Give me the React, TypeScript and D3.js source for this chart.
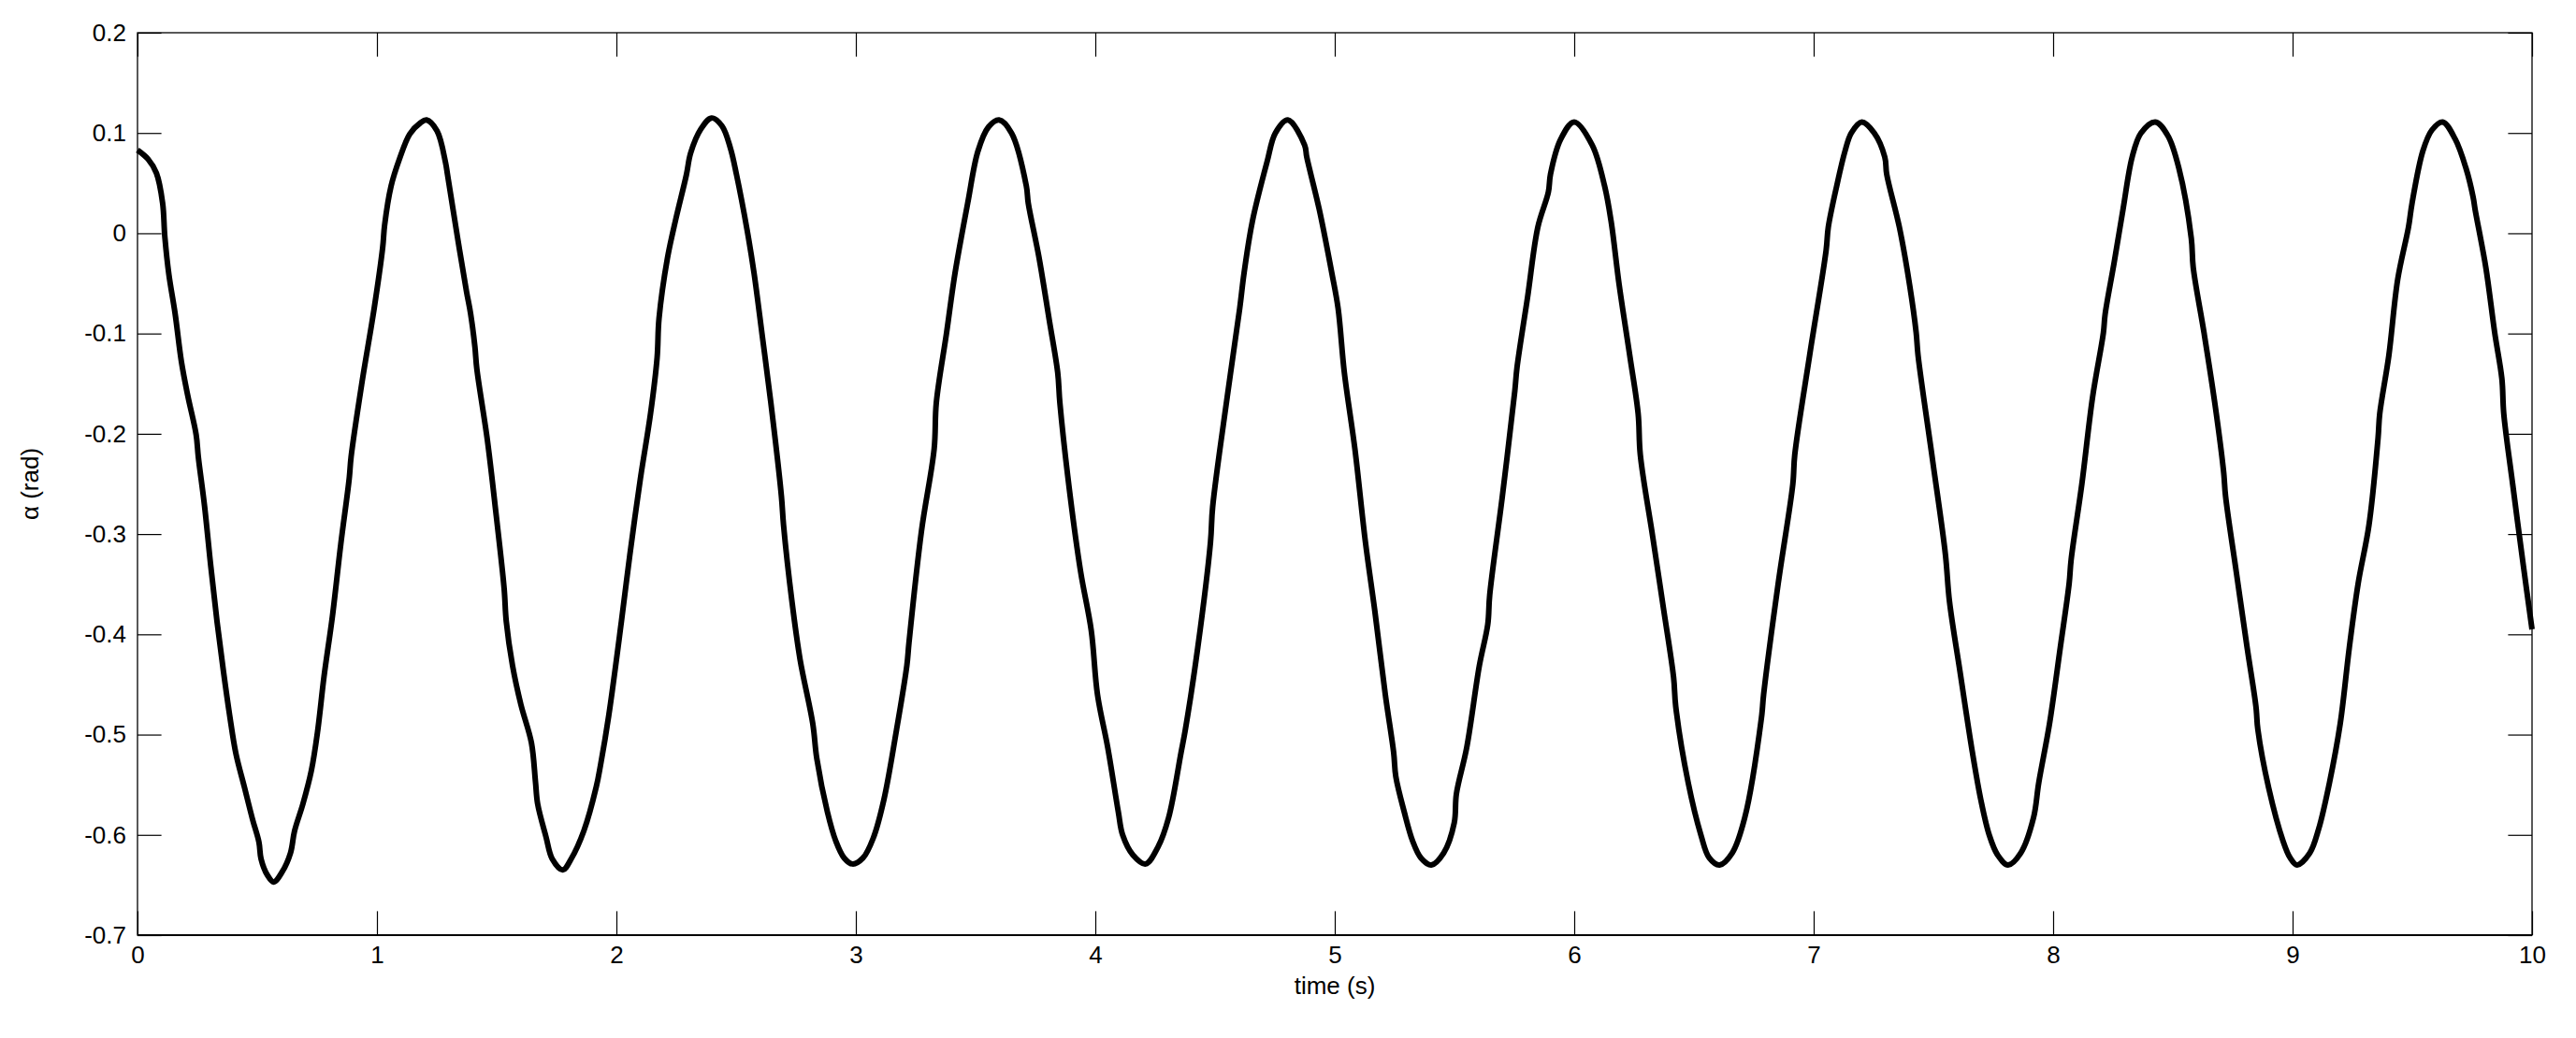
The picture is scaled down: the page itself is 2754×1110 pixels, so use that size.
import * as d3 from "d3";
import { useEffect, useRef } from "react";

// time samples (s)
const timeS = [
  0, 0.044, 0.079, 0.105, 0.114, 0.131, 0.157, 0.184, 0.21, 0.245, 0.254, 0.28, 0.306, 0.332, 0.359, 0.385,
  0.411, 0.446, 0.481, 0.507, 0.516, 0.542, 0.569, 0.604, 0.639, 0.656, 0.691, 0.726, 0.752, 0.779, 0.814,
  0.849, 0.884, 0.892, 0.936, 0.989, 1.024, 1.032, 1.059, 1.094, 1.137, 1.181, 1.207, 1.251, 1.286, 1.295,
  1.339, 1.374, 1.391, 1.409, 1.417, 1.461, 1.496, 1.531, 1.54, 1.566, 1.601, 1.645, 1.662, 1.671, 1.706,
  1.732, 1.776, 1.811, 1.864, 1.916, 1.934, 1.968, 2.021, 2.056, 2.1, 2.143, 2.17, 2.178, 2.213, 2.248,
  2.292, 2.31, 2.353, 2.397, 2.441, 2.476, 2.502, 2.546, 2.575, 2.61, 2.645, 2.689, 2.698,
  2.733, 2.767, 2.82, 2.837, 2.881, 2.916, 2.951, 2.986, 3.03, 3.073, 3.117, 3.17, 3.213, 3.222, 3.274,
  3.327, 3.336, 3.379, 3.414, 3.467, 3.51, 3.554, 3.598, 3.65, 3.712, 3.72, 3.764, 3.808, 3.843, 3.852,
  3.895, 3.939, 3.983, 4.009, 4.052, 4.096, 4.114, 4.157, 4.21, 4.262, 4.306, 4.358, 4.376, 4.428, 4.481,
  4.49, 4.551, 4.603, 4.621, 4.656, 4.717, 4.752, 4.804, 4.874, 4.883, 4.935, 4.988, 5.014, 5.04, 5.084,
  5.128, 5.168, 5.211, 5.246, 5.255, 5.29, 5.325, 5.36, 5.403, 5.455, 5.499, 5.508, 5.551, 5.604, 5.639,
  5.647, 5.7, 5.752, 5.761, 5.805, 5.848, 5.892, 5.901, 5.944, 6.0, 6.075, 6.127, 6.154, 6.188, 6.232,
  6.267, 6.276, 6.328, 6.372, 6.415, 6.424, 6.476, 6.529, 6.564, 6.607, 6.66, 6.712, 6.782, 6.791, 6.852,
  6.913, 6.921, 6.983, 7.052, 7.061, 7.096, 7.131, 7.157, 7.201, 7.253, 7.297, 7.305, 7.358, 7.401, 7.428,
  7.436, 7.497, 7.55, 7.567, 7.611, 7.663, 7.698, 7.733, 7.768, 7.812, 7.865, 7.918, 7.94, 7.985, 8.03,
  8.067, 8.075, 8.12, 8.165, 8.21, 8.217, 8.255, 8.292, 8.33, 8.367, 8.427, 8.48, 8.525, 8.577, 8.585,
  8.63, 8.675, 8.712, 8.72, 8.765, 8.81, 8.847, 8.855, 8.9, 8.96, 8.99, 9.019, 9.072, 9.109, 9.154, 9.199,
  9.237, 9.274, 9.319, 9.357, 9.364, 9.402, 9.439, 9.484, 9.499, 9.544, 9.582, 9.627, 9.679, 9.724, 9.754,
  9.762, 9.807, 9.844, 9.874, 9.882, 9.919, 9.964, 10.0,
];

// pendulum angle alpha (rad) at the samples above
const alphaRad = [
  0.083, 0.074, 0.06, 0.03, -0.003, -0.041, -0.08, -0.129, -0.162, -0.201, -0.223, -0.272, -0.332, -0.387, -0.437, -0.481,
  -0.519, -0.552, -0.585, -0.607, -0.624, -0.64, -0.647, -0.637, -0.618, -0.596, -0.569, -0.536, -0.497, -0.442, -0.382,
  -0.31, -0.245, -0.223, -0.151, -0.074, -0.014, 0.008, 0.047, 0.074, 0.099, 0.11, 0.113, 0.102, 0.071, 0.058,
  -0.008, -0.058, -0.08, -0.113, -0.135, -0.206, -0.277, -0.354, -0.387, -0.431, -0.47, -0.508, -0.547, -0.569, -0.602,
  -0.624, -0.635, -0.624, -0.596, -0.552, -0.53, -0.481, -0.387, -0.321, -0.245, -0.179, -0.124, -0.085, -0.025, 0.014,
  0.058, 0.08, 0.104, 0.115, 0.107, 0.085, 0.058, 0.003, -0.04, -0.104, -0.169, -0.262, -0.291,
  -0.367, -0.425, -0.489, -0.524, -0.577, -0.606, -0.623, -0.629, -0.623, -0.603, -0.565, -0.495, -0.431, -0.408, -0.297,
  -0.215, -0.169, -0.099, -0.04, 0.03, 0.082, 0.106, 0.113, 0.1, 0.047, 0.03, -0.023, -0.087, -0.139, -0.169,
  -0.262, -0.338, -0.396, -0.46, -0.513, -0.577, -0.6, -0.62, -0.629, -0.612, -0.583, -0.518, -0.495, -0.413, -0.308,
  -0.273, -0.163, -0.075, -0.04, 0.012, 0.071, 0.1, 0.113, 0.088, 0.076, 0.024, -0.04, -0.075, -0.139, -0.215,
  -0.308, -0.378, -0.46, -0.518, -0.542, -0.577, -0.606, -0.623, -0.63, -0.618, -0.588, -0.559, -0.513, -0.431, -0.39,
  -0.361, -0.262, -0.157, -0.134, -0.064, 0.006, 0.041, 0.059, 0.094, 0.111, 0.088, 0.047, 0.012, -0.052, -0.122,
  -0.18, -0.221, -0.303, -0.373, -0.443, -0.472, -0.548, -0.6, -0.623, -0.63, -0.618, -0.583, -0.483, -0.46, -0.349,
  -0.25, -0.221, -0.122, -0.017, 0.006, 0.047, 0.082, 0.1, 0.111, 0.1, 0.076, 0.059, 0.006, -0.052, -0.099,
  -0.122, -0.227, -0.32, -0.367, -0.437, -0.518, -0.565, -0.6, -0.62, -0.63, -0.618, -0.583, -0.548, -0.489, -0.413,
  -0.349, -0.326, -0.25, -0.163, -0.099, -0.081, -0.029, 0.024, 0.076, 0.1, 0.111, 0.097, 0.065, -0.005, -0.034,
  -0.099, -0.169, -0.238, -0.262, -0.338, -0.413, -0.472, -0.495, -0.553, -0.606, -0.623, -0.63, -0.618, -0.594, -0.548, -0.489,
  -0.413, -0.349, -0.291, -0.204, -0.18, -0.122, -0.046, 0.006, 0.03, 0.082, 0.103, 0.111, 0.094, 0.065, 0.036,
  0.024, -0.034, -0.099, -0.145, -0.18, -0.25, -0.332, -0.395,
];

const xTicks = [0, 1, 2, 3, 4, 5, 6, 7, 8, 9, 10];
const yTicks = [-0.7, -0.6, -0.5, -0.4, -0.3, -0.2, -0.1, 0, 0.1, 0.2];

const width = 2754;
const height = 1110;
const marginTop = 35;
const marginRight = 47;
const marginBottom = 110;
const marginLeft = 147;
const tickLen = 25.6;
const font = "'Liberation Sans', Arial, Helvetica, sans-serif";

const fmt = (d: number) => (Math.abs(d) < 1e-9 ? "0" : d3.format(".1f")(d).replace("−", "-"));

export default function App() {
  const gx = useRef<SVGGElement>(null);
  const gy = useRef<SVGGElement>(null);
  const gxTop = useRef<SVGGElement>(null);
  const gyRight = useRef<SVGGElement>(null);

  const x = d3.scaleLinear().domain([0, 10]).range([marginLeft, width - marginRight]);
  const y = d3.scaleLinear().domain([-0.7, 0.2]).range([height - marginBottom, marginTop]);

  const points: [number, number][] = timeS.map((t, i) => [t, alphaRad[i]]);
  // centripetal Catmull-Rom rounds the peaks without big overshoot
  const line = d3
    .line<[number, number]>()
    .x((d) => x(d[0]))
    .y((d) => y(d[1]))
    .curve(d3.curveCatmullRom.alpha(0.5));

  useEffect(() => {
    const style = (g: d3.Selection<SVGGElement, unknown, null, undefined>) => {
      g.select(".domain").remove();
      g.selectAll(".tick line").attr("stroke", "#000").attr("stroke-width", 1.2);
      g.selectAll(".tick text")
        .attr("fill", "#000")
        .style("font-family", font)
        .style("font-size", "26px");
    };
    d3.select(gx.current!)
      .call(d3.axisBottom(x).tickValues(xTicks).tickSize(-tickLen).tickPadding(12).tickFormat((d) => `${d}`))
      .call(style);
    d3.select(gy.current!)
      .call(d3.axisLeft(y).tickValues(yTicks).tickSize(-tickLen).tickPadding(12).tickFormat((d) => fmt(+d)))
      .call(style);
    d3.select(gxTop.current!)
      .call(d3.axisTop(x).tickValues(xTicks).tickSize(-tickLen).tickFormat(() => ""))
      .call(style);
    d3.select(gyRight.current!)
      .call(d3.axisRight(y).tickValues(yTicks).tickSize(-tickLen).tickFormat(() => ""))
      .call(style);
  }, []);

  return (
    <svg
      width={width}
      height={height}
      viewBox={`0 0 ${width} ${height}`}
      style={{ position: "absolute", left: 0, top: 0, background: "#fff" }}
    >
      <rect x={0} y={0} width={width} height={height} fill="#fff" />
      <g ref={gx} transform={`translate(0,${height - marginBottom})`} />
      <g ref={gy} transform={`translate(${marginLeft},0)`} />
      <g ref={gxTop} transform={`translate(0,${marginTop})`} />
      <g ref={gyRight} transform={`translate(${width - marginRight},0)`} />
      <rect
        x={marginLeft}
        y={marginTop}
        width={width - marginLeft - marginRight}
        height={height - marginTop - marginBottom}
        fill="none"
        stroke="#000"
        strokeWidth={1.3}
      />
      <line
        x1={marginLeft}
        x2={width - marginRight}
        y1={height - marginBottom}
        y2={height - marginBottom}
        stroke="#000"
        strokeWidth={2}
      />
      <path d={line(points) ?? ""} fill="none" stroke="#000" strokeWidth={6} strokeLinejoin="round" />
      <text
        x={(marginLeft + width - marginRight) / 2}
        y={1063}
        textAnchor="middle"
        fontFamily={font}
        fontSize={26}
        fill="#000"
      >
        time (s)
      </text>
      <text
        transform={`translate(41,${(marginTop + height - marginBottom) / 2}) rotate(-90)`}
        textAnchor="middle"
        fontFamily={font}
        fontSize={26}
        fill="#000"
      >
        α (rad)
      </text>
    </svg>
  );
}
